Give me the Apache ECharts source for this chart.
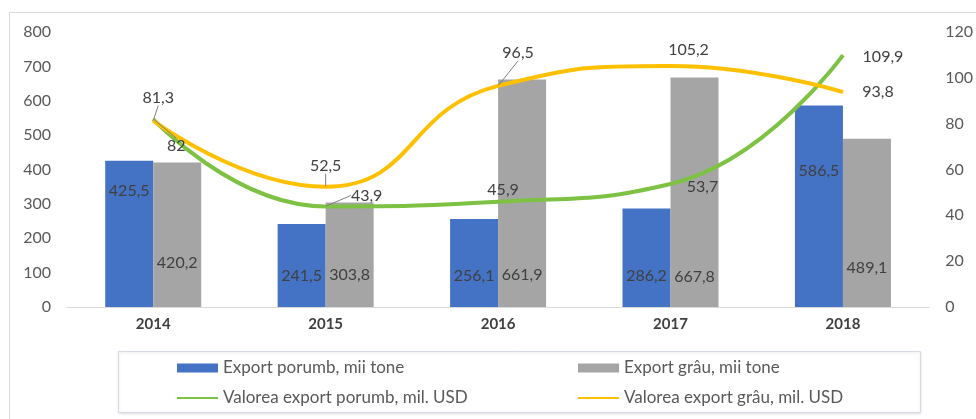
<!DOCTYPE html>
<html>
<head>
<meta charset="utf-8">
<script src="https://cdn.jsdelivr.net/npm/echarts@6/dist/echarts.min.js"></script>
<style>
  html, body { margin: 0; padding: 0; background: #fff; }
  #chart { width: 976px; height: 419px; }
</style>
</head>
<body>
<div id="chart"></div>
<script>
// date
const years = ['2014', '2015', '2016', '2017', '2018'];
const exportPorumb = [425.5, 241.5, 256.1, 286.2, 586.5];
const exportGrau = [420.2, 303.8, 661.9, 667.8, 489.1];
const valoarePorumb = [82, 43.9, 45.9, 53.7, 109.9];
const valoareGrau = [81.3, 52.5, 96.5, 105.2, 93.8];
const leftTicks = { min: 0, max: 800, interval: 100 };
const rightTicks = { min: 0, max: 120, interval: 20 };

// pozitia etichetelor (doar stil)
const porumbLabelPos = [['insideTop', 22], ['insideBottom', 23], ['insideBottom', 23], ['insideBottom', 23], ['insideTop', 57]];
const grauLabelPos = [['insideBottom', 36], ['insideBottom', 24], ['insideBottom', 24], ['insideBottom', 22], ['insideBottom', 31]];
const verdeOffset = [[23, 27, true], [41, -11, true], [5, -12, false], [32, 3, false], [40, 2, false]];
const galbenOffset = [[5, -23, true], [0, -21, true], [20, -33, true], [18, -16, false], [35, 0, false]];

const FONT = 'Lato';
const TXT = '#404040';
const comma = v => String(v).replace('.', ',');

(function () {
  const myChart = echarts.init(document.getElementById('chart'));

  const barItems = (vals, pos) => vals.map((v, i) => ({
    value: v,
    label: { position: pos[i][0], distance: pos[i][1] }
  }));
  const lineItems = (vals, off) => vals.map((v, i) => ({
    value: v,
    labelLine: { show: off[i][2] }
  }));
  const layoutFrom = off => function (params) {
    const o = off[params.dataIndex];
    return { dx: o[0], dy: o[1] };
  };

  const labelStyle = {
    show: true,
    color: TXT,
    fontFamily: FONT,
    fontSize: 16,
    formatter: p => comma(p.value)
  };
  const legendText = { color: '#595959', fontFamily: FONT, fontSize: 17, lineHeight: 18 };

  const option = {
    animation: false,
    color: ['#4472C4', '#A5A5A5', '#7DC242', '#FFC000'],
    textStyle: { fontFamily: FONT },
    grid: { left: 67, right: 44, top: 32, bottom: 112 },
    graphic: [
      {
        type: 'rect',
        shape: { x: 9.5, y: 12.5, width: 1000, height: 420 },
        style: { fill: 'none', stroke: '#D9D9D9', lineWidth: 1 },
        silent: true
      },
      {
        type: 'rect',
        shape: { x: 118.5, y: 351.5, width: 802, height: 61 },
        style: {
          fill: '#fff', stroke: '#D5D9E3', lineWidth: 1,
          shadowBlur: 3, shadowColor: 'rgba(0,0,0,0.12)', shadowOffsetY: 1
        },
        z: -1,
        silent: true
      }
    ],
    legend: [
      {
        left: 176, top: 359, orient: 'vertical',
        itemWidth: 41, itemHeight: 9, itemGap: 12, padding: 0,
        textStyle: legendText,
        data: [
          { name: 'Export porumb, mii tone', icon: 'rect' },
          { name: 'Valorea export porumb, mil. USD', itemStyle: { opacity: 0 } }
        ]
      },
      {
        left: 577, top: 359, orient: 'vertical',
        itemWidth: 41, itemHeight: 9, itemGap: 12, padding: 0,
        textStyle: legendText,
        data: [
          { name: 'Export grâu, mii tone', icon: 'rect' },
          { name: 'Valorea export grâu, mil. USD', itemStyle: { opacity: 0 } }
        ]
      }
    ],
    xAxis: {
      type: 'category',
      data: years,
      axisTick: { show: false },
      axisLine: { lineStyle: { color: '#D9D9D9', width: 1 } },
      axisLabel: { color: TXT, fontFamily: FONT, fontSize: 15, fontWeight: 'bold', margin: 10 }
    },
    yAxis: [
      {
        type: 'value',
        min: leftTicks.min, max: leftTicks.max, interval: leftTicks.interval,
        splitLine: { show: false },
        axisLine: { show: false },
        axisTick: { show: false },
        axisLabel: { color: '#595959', fontFamily: FONT, fontSize: 16, margin: 16 }
      },
      {
        type: 'value',
        min: rightTicks.min, max: rightTicks.max, interval: rightTicks.interval,
        splitLine: { show: false },
        axisLine: { show: false },
        axisTick: { show: false },
        axisLabel: { color: '#595959', fontFamily: FONT, fontSize: 16, margin: 16 }
      }
    ],
    series: [
      {
        name: 'Export porumb, mii tone',
        type: 'bar',
        barWidth: 48,
        barGap: '0%',
        data: barItems(exportPorumb, porumbLabelPos),
        label: labelStyle
      },
      {
        name: 'Export grâu, mii tone',
        type: 'bar',
        barWidth: 48,
        barGap: '0%',
        data: barItems(exportGrau, grauLabelPos),
        label: labelStyle
      },
      {
        name: 'Valorea export porumb, mil. USD',
        type: 'line',
        yAxisIndex: 1,
        smooth: 0.5,
        symbol: 'circle',
        symbolSize: 1,
        lineStyle: { width: 4 },
        data: lineItems(valoarePorumb, verdeOffset),
        label: Object.assign({}, labelStyle, { position: 'inside' }),
        labelLayout: layoutFrom(verdeOffset),
        labelLine: { show: true, lineStyle: { color: '#7F7F7F', width: 1 } },
        z: 3
      },
      {
        name: 'Valorea export grâu, mil. USD',
        type: 'line',
        yAxisIndex: 1,
        smooth: 0.5,
        symbol: 'circle',
        symbolSize: 1,
        lineStyle: { width: 4 },
        data: lineItems(valoareGrau, galbenOffset),
        label: Object.assign({}, labelStyle, { position: 'inside' }),
        labelLayout: layoutFrom(galbenOffset),
        labelLine: { show: true, lineStyle: { color: '#7F7F7F', width: 1 } },
        z: 3
      }
    ]
  };

  myChart.setOption(option);
  window.addEventListener('resize', function () {
    myChart.resize();
  });
})();
</script>
</body>
</html>
